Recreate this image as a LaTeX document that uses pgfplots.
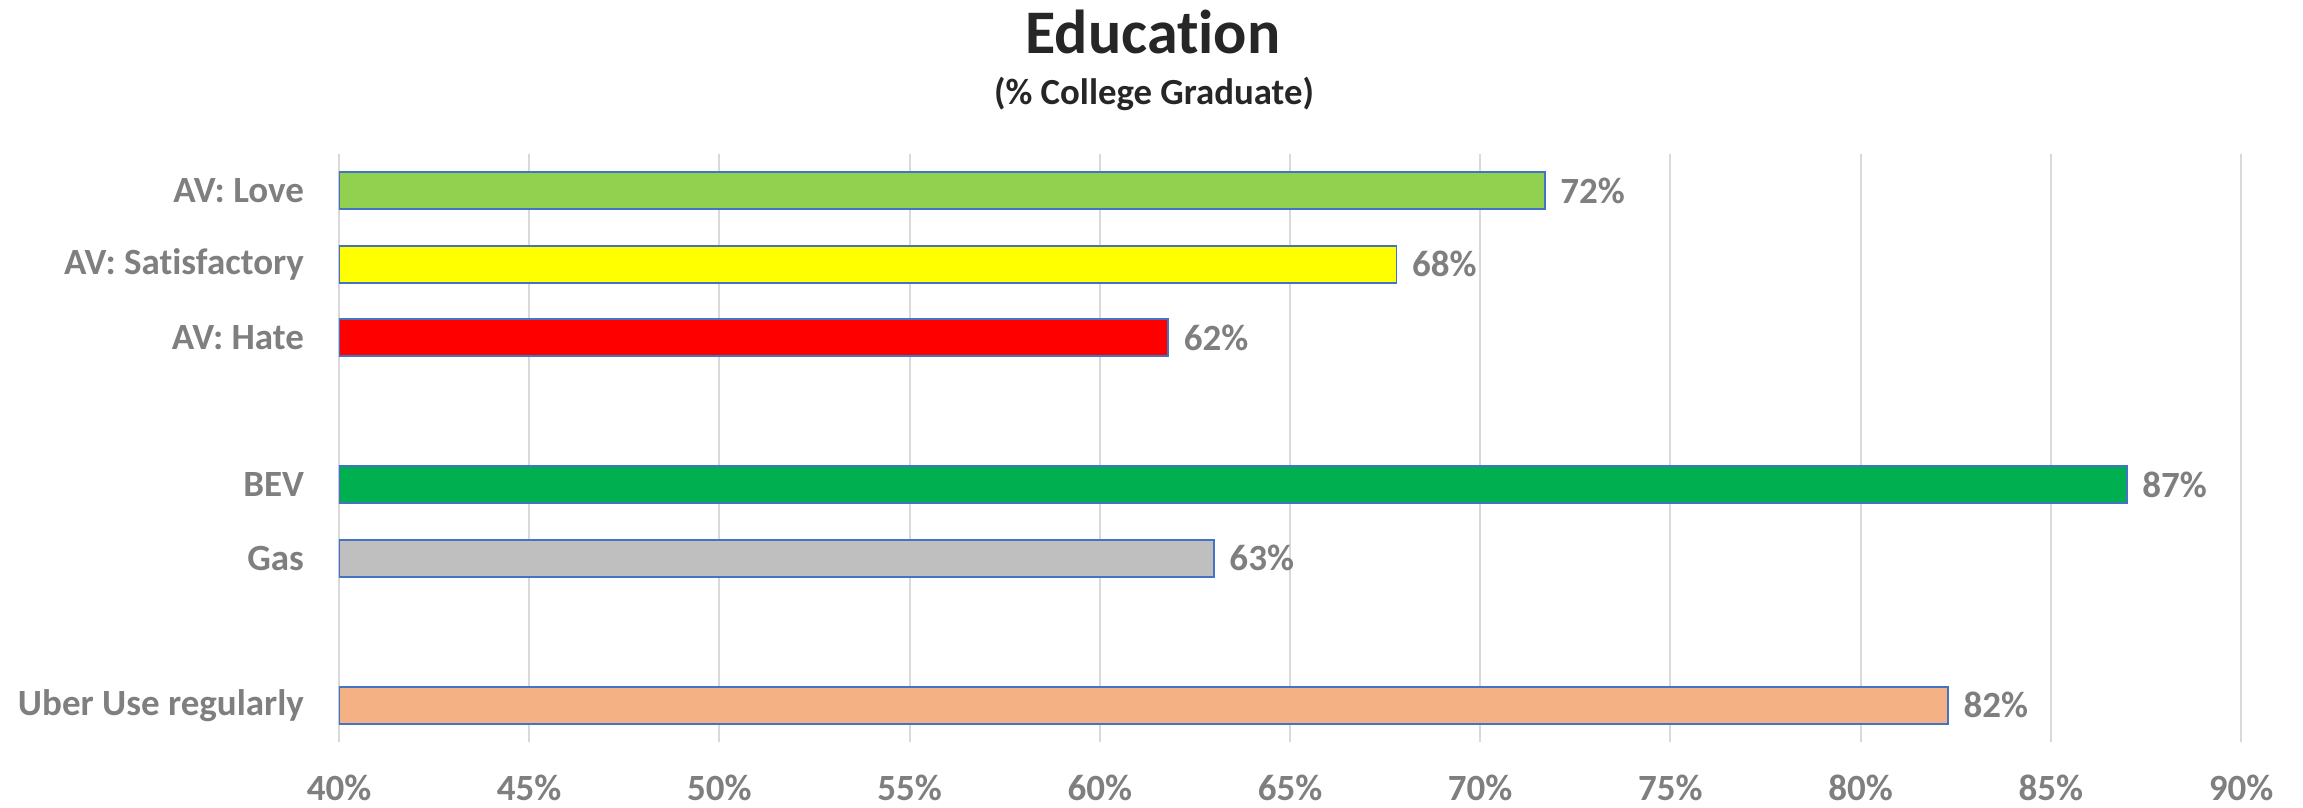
\documentclass[border=0pt]{standalone}
\usepackage{pgfplots}
\pgfplotsset{compat=1.18}
\usepackage{fontspec}
\setmainfont[Ligatures=NoCommon]{Carlito}
\definecolor{txt}{HTML}{7F7F7F}
\definecolor{ttl}{HTML}{262626}
\definecolor{gridc}{HTML}{D9D9D9}
\definecolor{edge}{HTML}{4472C4}
\definecolor{cLove}{HTML}{92D050}
\definecolor{cSat}{HTML}{FFFF00}
\definecolor{cHate}{HTML}{FF0000}
\definecolor{cBEV}{HTML}{00B050}
\definecolor{cGas}{HTML}{BFBFBF}
\definecolor{cUber}{HTML}{F4B183}
\begin{document}
\begin{tikzpicture}
\begin{axis}[
  scale only axis, width=951pt, height=294pt,
  xmin=40, xmax=90, ymin=-0.5, ymax=7.5,
  xtick={40,45,...,90},
  xticklabel={\pgfmathprintnumber{\tick}\%},
  ytick={0,2,3,5,6,7},
  yticklabels={Uber Use regularly,Gas,BEV,AV: Hate,AV: Satisfactory,AV: Love},
  axis line style={draw=none},
  major tick length=0pt,
  xmajorgrids, grid style={color=gridc, line width=1pt},
  ticklabel style={font=\fontsize{18.5}{22}\selectfont\bfseries, text=txt},
  xticklabel style={yshift=-13pt},
  yticklabel style={xshift=-14pt},
  /pgf/number format/assume math mode=true,
  xbar, bar width=18.5pt, bar shift=0pt,
  point meta=x,
  nodes near coords={\pgfmathprintnumber[fixed,precision=0]{\pgfplotspointmeta}\%},
  nodes near coords style={font=\fontsize{18.5}{22}\selectfont\bfseries, text=txt, xshift=4pt},
]
\addplot[draw=edge, line width=0.9pt, fill=cLove] coordinates {(71.7,7)};
\addplot[draw=edge, line width=0.9pt, fill=cSat] coordinates {(67.8,6)};
\addplot[draw=edge, line width=0.9pt, fill=cHate] coordinates {(61.8,5)};
\addplot[draw=edge, line width=0.9pt, fill=cBEV] coordinates {(87.0,3)};
\addplot[draw=edge, line width=0.9pt, fill=cGas] coordinates {(63.0,2)};
\addplot[draw=edge, line width=0.9pt, fill=cUber] coordinates {(82.3,0)};
\end{axis}
\node[font=\fontsize{31}{36}\selectfont\bfseries, text=ttl] at ([shift={(407pt,61pt)}]current axis.north west) {Education};
\node[font=\fontsize{18.4}{22}\selectfont\bfseries, text=ttl] at ([shift={(407.5pt,30pt)}]current axis.north west) {(\% College Graduate)};
\pgfresetboundingbox
\path ([shift={(-169.5pt,-33pt)}]current axis.south west) rectangle ([shift={(31pt,77pt)}]current axis.north east);
\end{tikzpicture}
\end{document}
